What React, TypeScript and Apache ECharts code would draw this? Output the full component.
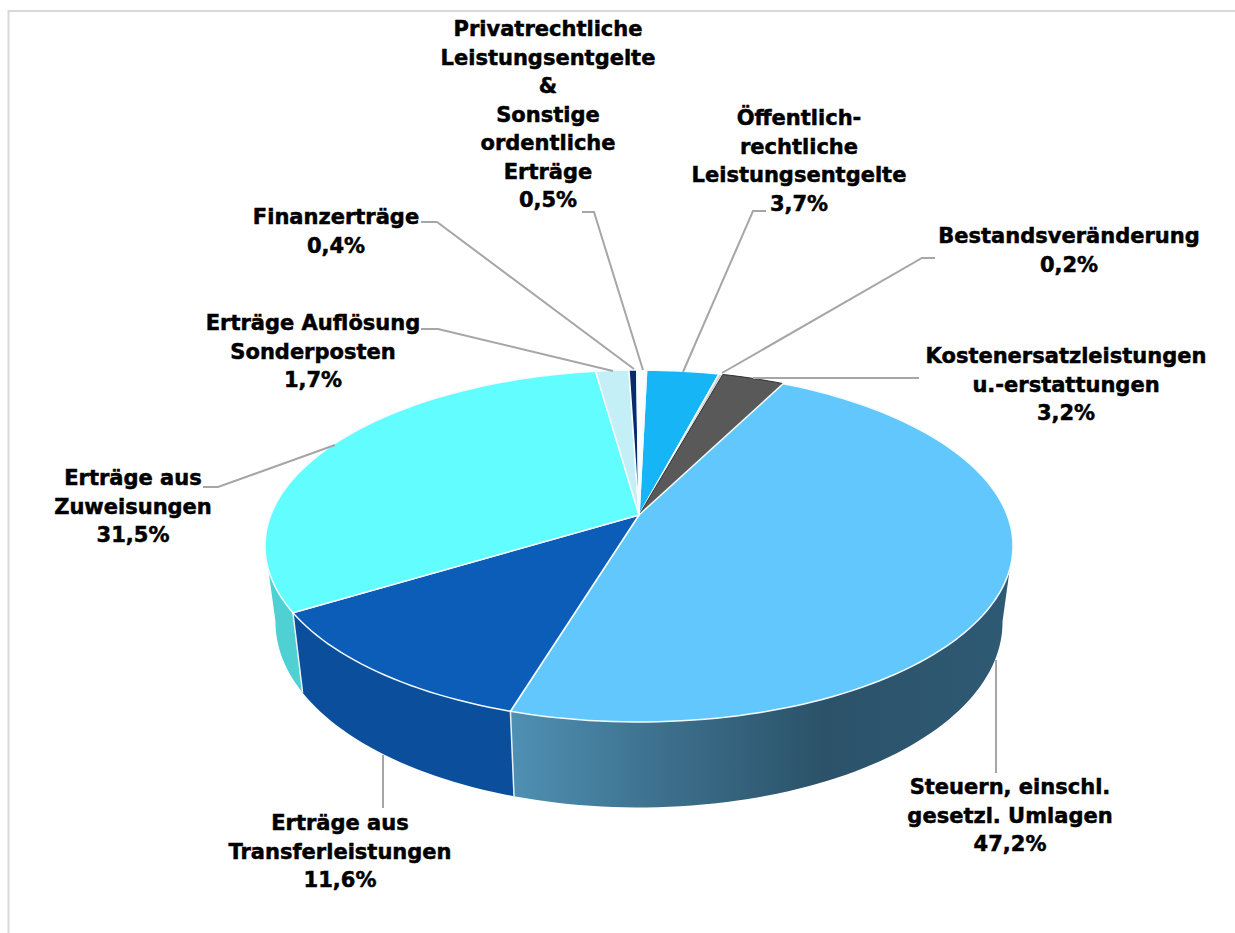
import React, { useEffect, useRef } from "react";
import * as echarts from "echarts";

const sliceNames = [
  "Öffentlich-\nrechtliche\nLeistungsentgelte",
  "Bestandsveränderung",
  "Kostenersatzleistungen\nu.-erstattungen",
  "Steuern, einschl.\ngesetzl. Umlagen",
  "Erträge aus\nTransferleistungen",
  "Erträge aus\nZuweisungen",
  "Erträge Auflösung\nSonderposten",
  "Finanzerträge",
  "Privatrechtliche\nLeistungsentgelte\n&\nSonstige\nordentliche\nErträge",
];
const sliceValues = [3.7, 0.2, 3.2, 47.2, 11.6, 31.5, 1.7, 0.4, 0.5];
const topColors = ["#16b5f5", "#d0d0d0", "#595959", "#62c7fd", "#0b5db7", "#62feff", "#c5eff7", "#0a2a6e", "#fdfdfd"];
const wallColors = ["#118fc2", "#a8a8a8", "#404040", "#3b6f8c", "#0b4f9c", "#4fd0d3", "#9cc", "#081f52", "#ddd"];

const labelCenters = [
  [799, 118], [1069, 236], [1066, 356], [1010, 787], [340, 823], [133, 478], [313, 323], [336, 217], [548, 29],
];
const leaders = [
  [[766, 211], [753, 211], [683, 372]],
  [[935, 258], [922, 258], [722, 373]],
  [[919, 378], [753, 378]],
  [[996, 773], [996, 660]],
  [[383, 808], [383, 755]],
  [[203, 487], [218, 487], [335, 445]],
  [[421, 329], [438, 329], [613, 371]],
  [[421, 222], [437, 222], [634, 369]],
  [[582, 212], [594, 212], [643, 370]],
];

const CX = 639, CY = 515, D = 5.677, F = 2090, G = 968;
const START = 1.4;
const total = sliceValues.reduce((a, b) => a + b, 0);
const RAD = Math.PI / 180;
const bounds: [number, number][] = [];
sliceValues.reduce((acc, v) => {
  const next = acc + (v / total) * 360;
  bounds.push([acc, next]);
  return next;
}, START);

const topPt = (deg: number) => {
  const u = Math.sin(deg * RAD), v = Math.cos(deg * RAD), w = D + v;
  return [CX + (F * u) / w, CY - (G * v) / w];
};
const bottomPt = (deg: number) => {
  const u = Math.sin(deg * RAD), v = Math.cos(deg * RAD), w = D + v;
  return [CX + (0.972 * F * u) / w, CY - (G * v) / w + 74 - 11.5 * v];
};
const arc = (fn: (d: number) => number[], a: number, b: number) => {
  const n = Math.max(2, Math.ceil(Math.abs(b - a) / 1.5));
  const out: number[][] = [];
  for (let i = 0; i <= n; i++) out.push(fn(a + ((b - a) * i) / n));
  return out;
};

const fmt = (v: number) => v.toFixed(1).replace(".", ",") + "%";

export default function App() {
  const ref = useRef<HTMLDivElement>(null);
  useEffect(() => {
    document.body.style.margin = "0";
    document.body.style.overflow = "hidden";
    const chart = echarts.init(ref.current!, null, { renderer: "svg" });
    const data = sliceValues.map((v, i) => [i, v]);
    const wallFill = (i: number) =>
      i === 3
        ? new echarts.graphic.LinearGradient(0, 0, 1, 0, [
            { offset: 0, color: "#4f90b3" },
            { offset: 0.3, color: "#3d708d" },
            { offset: 0.62, color: "#2b5269" },
            { offset: 1, color: "#2f5a74" },
          ])
        : wallColors[i];
    chart.setOption({
      animation: false,
      backgroundColor: "#ffffff",
      series: [
        {
          type: "custom",
          coordinateSystem: "none",
          silent: true,
          z: 2,
          data,
          renderItem: (_p: any, api: any) => {
            const i = api.value(0);
            const a = Math.max(bounds[i][0], 100);
            const b = Math.min(bounds[i][1], 260);
            if (b <= a) return null;
            return {
              type: "polygon",
              shape: { points: [...arc(topPt, a, b), ...arc(bottomPt, b, a)] },
              style: { fill: wallFill(i), stroke: "rgba(255,255,255,0)", lineWidth: 0 },
            };
          },
        },
        {
          type: "custom",
          coordinateSystem: "none",
          silent: true,
          z: 3,
          data: [[3], [4]],
          renderItem: (_p: any, api: any) => {
            const i = api.value(0);
            const d = bounds[i][1];
            return {
              type: "line",
              shape: { x1: topPt(d)[0], y1: topPt(d)[1], x2: bottomPt(d)[0], y2: bottomPt(d)[1] },
              style: { stroke: "#e8f1f5", lineWidth: 1.5 },
            };
          },
        },
        {
          type: "custom",
          coordinateSystem: "none",
          silent: true,
          z: 4,
          data,
          renderItem: (_p: any, api: any) => {
            const i = api.value(0);
            return {
              type: "polygon",
              shape: { points: [[CX, CY], ...arc(topPt, bounds[i][0], bounds[i][1])] },
              style: {
                fill: topColors[i],
                stroke: i === 2 ? "#303030" : "#f4fbff",
                lineWidth: i === 2 ? 1 : 1.5,
                lineJoin: "round",
              },
            };
          },
        },
      ],
      graphic: [
        {
          type: "polyline",
          silent: true,
          z: 1,
          shape: { points: [[8.5, 933], [8.5, 11], [1235, 11]] },
          style: { fill: "none", stroke: "#d9d9d9", lineWidth: 2 },
        },
        ...leaders.map((pts) => ({
          type: "polyline",
          silent: true,
          z: 10,
          shape: { points: pts },
          style: { fill: "none", stroke: "#a6a6a6", lineWidth: 2 },
        })),
        ...sliceNames.map((name, i) => ({
          type: "text",
          silent: true,
          z: 11,
          x: labelCenters[i][0],
          y: labelCenters[i][1] - 14,
          style: {
            text: name + "\n" + fmt(sliceValues[i]),
            fill: "#000000",
            stroke: "#000000",
            lineWidth: 0.5,
            font: "bold 21px 'DejaVu Sans', sans-serif",
            lineHeight: 28.5,
            align: "center",
            verticalAlign: "top",
          },
        })),
      ],
    });
    return () => chart.dispose();
  }, []);
  return <div ref={ref} style={{ position: "absolute", left: 0, top: 0, width: 1235, height: 933 }} />;
}
